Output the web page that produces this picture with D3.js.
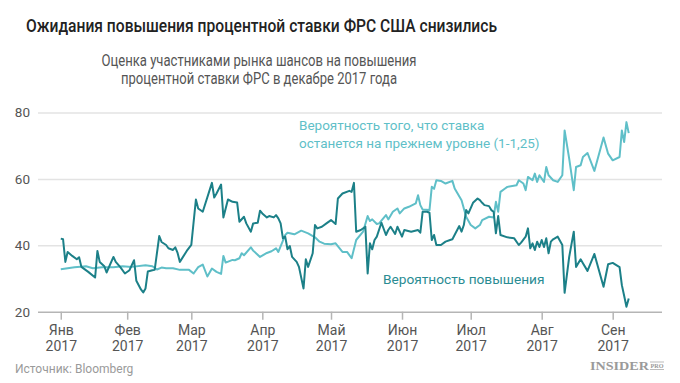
<!DOCTYPE html>
<html>
<head>
<meta charset="utf-8">
<script src="https://cdn.jsdelivr.net/npm/d3@7/dist/d3.min.js"></script>
<style>
  html, body { margin: 0; padding: 0; background: #fff; }
  svg { display: block; font-family: Roboto, "Noto Sans", sans-serif; }
</style>
</head>
<body>
<svg id="chart" width="680" height="383"></svg>
<script>
// ---- DATA ----
const titleText = "Ожидания повышения процентной ставки ФРС США снизились";
const subtitleLines = ["Оценка участниками рынка шансов на повышения", "процентной ставки ФРС в декабре 2017 года"];
const monthLabels = ["Янв", "Фев", "Мар", "Апр", "Май", "Июн", "Июл", "Авг", "Сен"];
const yearLabel = "2017";
const tickDays = [2, 31, 59, 90, 120, 151, 181, 212, 243]; // days since 1 Jan 2017
const yTicks = [20, 40, 60, 80];
const sourceText = "Источник: Bloomberg";
const holdLabel = ["Вероятность того, что ставка", "останется на прежнем уровне (1-1,25)"];
const hikeLabel = "Вероятность повышения";

// Probability of a hike (days since 1 Jan 2017, %)
const hikeDay = [
  2,3,4,5,7,9,10,11,14,17,
  18,19,21,22,25,26,28,30,32,34,
  35,37,38,39,40,42,43,45,46,48,
  49,51,52,53,54,57,59,61,62,64,
  68,69,70,72,73,75,77,79,80,82,
  83,85,86,88,89,90,92,93,95,96,
  97,98,99,100,101,102,103,105,106,108,
  109,110,112,113,114,116,118,120,122,123,
  125,128,129,130,131,133,135,136,137,138,
  139,140,142,144,145,146,148,149,151,152,
  155,158,159,160,162,163,164,165,166,168,
  170,172,173,176,177,178,179,180,182,184,
  185,186,187,189,190,191,192,193,194,197,
  200,202,203,205,206,207,208,209,210,211,
  212,213,214,215,216,217,219,221,222,224,
  226,227,229,230,232,235,239,241,243,246,
  247,248,249,250
];
const hikeVal = [
  42.0,41.8,35.0,38.0,36.8,35.8,36.4,33.5,32.0,30.3,
  38.3,35.0,33.7,31.8,36.5,35.0,33.4,31.5,32.5,35.5,
  29.3,26.7,25.8,27.0,32.1,32.5,32.6,42.8,41.0,40.1,
  39.1,38.6,39.4,37.7,35.0,38.3,40.1,53.8,51.1,50.1,
  58.8,54.4,55.6,58.3,48.4,53.8,53.1,52.9,47.1,48.6,
  46.6,44.1,46.6,46.8,50.4,49.6,48.4,48.8,48.4,49.1,
  48.1,46.6,42.1,42.6,38.8,39.8,36.5,35.0,33.5,27.0,
  35.8,33.5,37.6,46.1,45.1,45.6,46.6,47.6,46.4,54.1,
  55.6,56.4,56.1,58.8,44.1,44.6,45.6,31.5,40.6,38.8,
  41.6,42.6,46.8,43.1,44.6,45.6,43.4,45.6,42.6,44.6,
  44.1,44.6,43.8,50.1,50.1,49.8,41.6,43.1,40.1,40.1,
  41.1,41.6,41.8,45.8,44.1,46.1,50.6,49.6,52.8,54.1,
  53.6,52.8,52.1,51.8,50.6,50.1,43.6,48.8,43.1,42.4,
  42.1,40.1,40.8,42.6,45.1,39.1,40.6,38.6,41.1,39.5,
  41.6,39.5,42.1,37.6,41.1,41.8,42.6,40.1,25.7,36.5,
  44.1,33.5,35.8,34.6,32.3,37.4,27.5,34.3,34.7,33.4,
  28.0,24.8,21.5,24.0
];

// Probability that the rate stays unchanged (1-1.25)
const holdDay = [
  2,8,13,16,20,25,29,33,39,42,
  44,46,48,51,54,58,60,62,64,66,
  68,70,72,73,74,77,78,80,81,82,
  85,86,89,92,94,96,97,100,101,104,
  107,110,113,115,117,120,122,125,127,129,
  131,134,136,137,138,140,141,144,145,147,
  149,150,152,154,157,158,159,160,163,164,
  165,166,168,170,173,174,177,179,181,183,
  185,186,189,191,192,193,194,196,197,201,
  202,204,205,206,208,209,210,211,213,214,
  215,217,219,221,222,224,226,227,229,230,
  232,235,239,241,243,246,247,248,249,250
];
const holdVal = [
  32.8,33.4,33.7,33.1,33.4,33.4,33.7,33.5,34.0,33.7,
  32.7,33.3,33.1,33.1,32.6,32.6,31.5,33.4,34.2,30.6,
  33.0,32.0,31.4,36.8,34.8,35.6,35.5,36.1,37.6,37.0,
  39.4,38.4,36.5,37.7,38.2,39.1,38.0,43.1,43.8,43.3,
  44.4,43.6,42.4,41.1,40.5,40.3,40.6,38.0,38.0,36.1,
  41.6,44.1,48.8,47.3,47.8,46.4,46.6,49.1,47.8,50.1,
  51.1,49.6,51.1,51.6,52.6,55.1,52.1,50.8,50.6,57.6,
  57.0,59.6,59.4,58.6,59.4,57.1,53.6,48.6,46.1,45.1,
  46.1,47.6,48.6,48.4,53.1,50.1,56.1,57.1,57.6,58.1,
  59.6,58.6,56.6,60.6,59.6,61.6,59.1,61.1,59.1,63.6,
  61.1,59.6,59.1,61.1,74.6,66.1,56.6,63.6,64.1,66.6,
  67.8,62.4,72.5,67.6,65.6,66.6,74.6,71.1,77.1,73.8
];

// ---- CHART ----
const svg = d3.select("#chart");
const jan1 = new Date(2017, 0, 1);
const toDate = d => d3.timeDay.offset(jan1, d);

const gridLeft = 38, gridRight = 662;
const x = d3.scaleTime()
  .domain([jan1, new Date(2017, 8, 1)])
  .range([56.2, 612.7]);
const y = d3.scaleLinear().domain([20, 80]).range([311.7, 112.5]);

const darkColor = "#1c8088";
const lightColor = "#5fbfc8";

// title
svg.append("text")
  .attr("x", 26).attr("y", 31.5)
  .attr("font-size", 19).attr("font-weight", 500).attr("fill", "#222")
  .attr("textLength", 471).attr("lengthAdjust", "spacingAndGlyphs")
  .text(titleText);

const subWidths = [315, 276];
subtitleLines.forEach((s, i) => {
  svg.append("text")
    .attr("x", 259).attr("y", 65.5 + i * 18.5)
    .attr("text-anchor", "middle")
    .attr("font-size", 16.5).attr("fill", "#555")
    .attr("textLength", subWidths[i]).attr("lengthAdjust", "spacingAndGlyphs")
    .text(s);
});

// y grid + labels
const yAxis = d3.axisLeft(y)
  .tickValues(yTicks)
  .tickSize(-(gridRight - gridLeft))
  .tickPadding(8)
  .tickFormat(d3.format("d"));
const gy = svg.append("g").attr("transform", `translate(${gridLeft},0)`).call(yAxis);
gy.select(".domain").remove();
gy.selectAll(".tick line")
  .attr("stroke", d => d === 20 ? "#b5b5b5" : "#e3e3e3")
  .attr("stroke-width", 1.5);
gy.selectAll(".tick text")
  .attr("font-size", 13.5).attr("fill", "#555")
  .attr("font-family", "Roboto, sans-serif");

// x axis
const xAxis = d3.axisBottom(x)
  .tickValues(tickDays.map(toDate))
  .tickSize(8)
  .tickFormat("");
const gx = svg.append("g").attr("transform", `translate(0,${y(20)})`).call(xAxis);
gx.select(".domain").remove();
gx.selectAll(".tick line").attr("stroke", "#b5b5b5").attr("stroke-width", 1.5);
gx.selectAll(".tick").each(function(d, i) {
  const g = d3.select(this);
  g.append("text")
    .attr("text-anchor", "middle").attr("fill", "#555")
    .attr("font-size", 14).attr("font-family", "Roboto, sans-serif")
    .attr("y", 23.8).text(monthLabels[i]);
  g.append("text")
    .attr("text-anchor", "middle").attr("fill", "#555")
    .attr("font-size", 14).attr("font-family", "Roboto, sans-serif")
    .attr("y", 39.3).text(yearLabel);
});

// lines
const line = d3.line().x(d => x(d[0])).y(d => y(d[1]));
const holdData = holdDay.map((d, i) => [toDate(d), holdVal[i]]);
const hikeData = hikeDay.map((d, i) => [toDate(d), hikeVal[i]]);

svg.append("path").datum(holdData)
  .attr("fill", "none").attr("stroke", lightColor)
  .attr("stroke-width", 2).attr("stroke-linejoin", "round")
  .attr("d", line);
svg.append("path").datum(hikeData)
  .attr("fill", "none").attr("stroke", darkColor)
  .attr("stroke-width", 2).attr("stroke-linejoin", "round")
  .attr("d", line);

// annotations
holdLabel.forEach((s, i) => {
  svg.append("text")
    .attr("x", 299).attr("y", 130 + i * 17.5)
    .attr("font-size", 13.5).attr("fill", lightColor)
    .text(s);
});
svg.append("text")
  .attr("x", 383).attr("y", 284)
  .attr("font-size", 13.7).attr("fill", "#2a8c93")
  .text(hikeLabel);

// source
svg.append("text")
  .attr("x", 15).attr("y", 373)
  .attr("font-size", 12).attr("fill", "#9a9a9a")
  .text(sourceText);

// logo
svg.append("text")
  .attr("x", 590).attr("y", 370)
  .attr("font-family", "'Liberation Serif', 'DejaVu Serif', serif")
  .attr("font-weight", "bold").attr("font-size", 12)
  .attr("fill", "#9a9a9a")
  .attr("textLength", 59).attr("lengthAdjust", "spacingAndGlyphs")
  .text("INSIDER");
svg.append("line").attr("x1", 650).attr("x2", 664).attr("y1", 362).attr("y2", 362)
  .attr("stroke", "#aaa").attr("stroke-width", 0.8);
svg.append("line").attr("x1", 650).attr("x2", 664).attr("y1", 369.5).attr("y2", 369.5)
  .attr("stroke", "#aaa").attr("stroke-width", 0.8);
svg.append("text")
  .attr("x", 657).attr("y", 368).attr("text-anchor", "middle")
  .attr("font-family", "'Liberation Serif', serif").attr("font-weight", "bold")
  .attr("font-size", 6).attr("fill", "#9a9a9a")
  .attr("textLength", 13).attr("lengthAdjust", "spacingAndGlyphs")
  .text("PRO");
</script>
</body>
</html>
